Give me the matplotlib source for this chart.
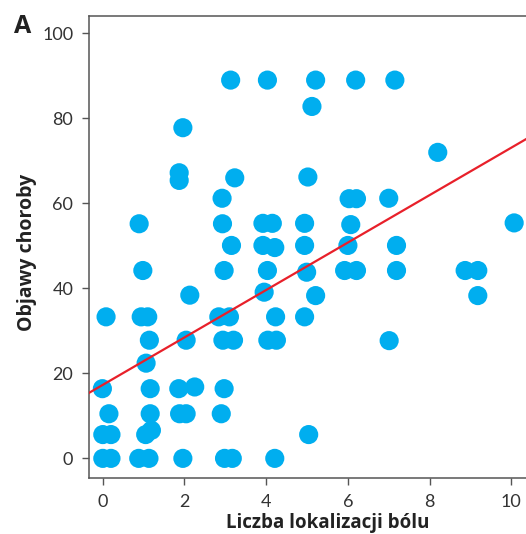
import matplotlib
matplotlib.use("Agg")
import matplotlib.pyplot as plt
import numpy as np

# Number of pain locations vs. disease symptom score
pain_sites = [
    3.13, 4.03, 5.21, 6.19, 7.15,
    5.12, 1.96, 8.20,
    1.87, 1.87, 3.23, 5.02,
    2.92, 6.03, 6.21, 7.00,
    0.89, 2.93, 3.92, 4.15, 4.94, 6.07, 10.07,
    3.15, 3.92, 4.21, 4.94, 6.00, 7.19,
    0.98, 2.97, 4.03, 4.99, 5.92, 6.21, 7.19, 8.87, 9.18,
    5.21, 9.18, 2.13, 3.95,
    0.08, 0.94, 1.10, 2.84, 3.10, 4.23, 4.94,
    1.14, 2.04, 2.94, 3.20, 4.04, 4.25, 7.01,
    1.06,
    -0.01, 1.16, 1.86, 2.25, 2.97,
    0.15, 1.16, 1.88, 2.04, 2.90,
    0.00, 0.20, 1.05, 1.19, 5.04,
    0.00, 0.20, 0.88, 1.13, 1.96, 2.98, 3.17, 4.21,
]
symptoms = [
    89, 89, 89, 89, 89,
    82.8, 77.8, 72.0,
    67.2, 65.4, 66.0, 66.2,
    61.2, 61.1, 61.1, 61.2,
    55.2, 55.2, 55.3, 55.3, 55.3, 55.0, 55.4,
    50.1, 50.1, 49.6, 50.1, 50.1, 50.1,
    44.2, 44.2, 44.2, 43.8, 44.2, 44.2, 44.2, 44.2, 44.2,
    38.3, 38.3, 38.4, 39.1,
    33.3, 33.3, 33.3, 33.3, 33.3, 33.3, 33.3,
    27.8, 27.8, 27.8, 27.8, 27.8, 27.8, 27.7,
    22.4,
    16.4, 16.4, 16.4, 16.8, 16.4,
    10.5, 10.5, 10.5, 10.5, 10.5,
    5.6, 5.6, 5.6, 6.6, 5.6,
    0, 0, 0, 0, 0, 0, 0, 0,
]

# Fitted regression line
fit_intercept = 17.3
fit_slope = 5.58

x_ticks = [0, 2, 4, 6, 8, 10]
y_ticks = [0, 20, 40, 60, 80, 100]

plt.rcParams["font.family"] = ["Lato", "DejaVu Sans"]
label_font = ["Open Sans", "DejaVu Sans"]

W, H = 526, 534
fig = plt.figure(figsize=(W / 100, H / 100), dpi=100)
ax = fig.add_axes([88.5 / W, (H - 477.5) / H, (W - 88.5) / W, (477.5 - 15.5) / H])

ax.scatter(pain_sites, symptoms, s=190, color="#00AEEF", edgecolors="none", zorder=2)

xlim = (-0.35, 10.36)
xs = np.array(xlim)
ax.plot(xs, fit_intercept + fit_slope * xs, color="#E8202A", lw=1.6, zorder=3)

ax.set_xlim(*xlim)
ax.set_ylim(-4.5, 104.2)
ax.set_xticks(x_ticks)
ax.set_yticks(y_ticks)

for side in ("left", "top", "bottom"):
    ax.spines[side].set_color("#555555")
    ax.spines[side].set_linewidth(1.1)
ax.spines["right"].set_visible(False)

ax.tick_params(direction="out", length=5, width=1.0, color="#555555",
               labelsize=13, labelcolor="#333333", pad=6)
ax.tick_params(axis="x", pad=7)

# Axis titles placed in figure pixels
fig.text(328 / W, 6 / H, "Liczba lokalizacji bólu", family=label_font,
         fontsize=13.5, fontweight="bold", color="#222222",
         ha="center", va="baseline")
fig.text(27 / W, 1 - 252 / H, "Objawy choroby", family=label_font,
         fontsize=14, fontweight="bold", color="#222222",
         ha="center", va="center", rotation=90)

fig.text(23 / W, 1 - 33 / H, "A", family=label_font, fontsize=18,
         fontweight="bold", color="#222222", ha="center", va="baseline")

fig.savefig("out.png", dpi=100)
